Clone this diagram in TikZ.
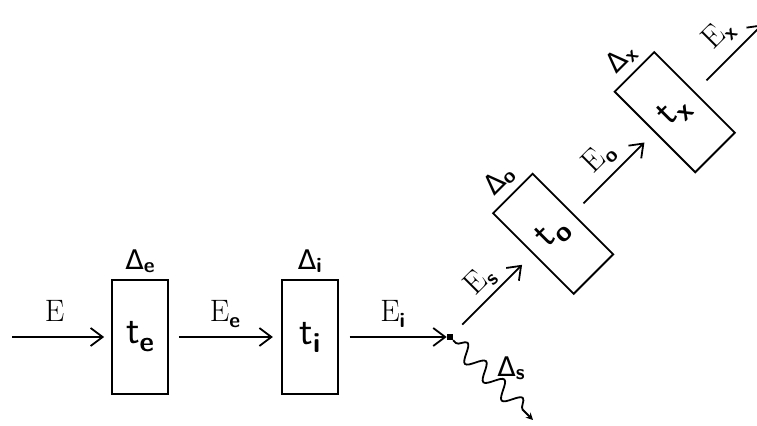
\documentclass[tikz,border=0pt]{standalone}
\usepackage{fontspec}
\newfontfamily\deltafont{DejaVu Sans}
\usetikzlibrary{arrows.meta, positioning, decorations.pathmorphing}

\newcommand{\bsub}[2][3pt]{\raisebox{-#1}{\fontsize{10.5}{11}\selectfont\sffamily\bfseries #2}}
\newcommand{\tbox}[1]{\textsf{t}\raisebox{-4pt}{\fontsize{14}{14}\selectfont\sffamily\bfseries #1}}
\newcommand{\dlab}[1]{{\deltafont\fontsize{13.5}{15}\selectfont Δ}\bsub[1.5pt]{#1}}

\begin{document}
\begin{tikzpicture}[
  x=0.5pt, y=0.5pt,
  font=\fontsize{15.5}{18}\selectfont,
  stage/.style={rectangle, draw, line width=0.9pt, minimum width=28pt,
                minimum height=57pt, inner sep=0pt, font=\fontsize{20}{22}\selectfont},
  arr/.style={-{Straight Barb[length=6pt, width=9pt]}, line width=0.9pt},
  flow/.style={midway, anchor=base, yshift=8pt},
  delta/.style={inner sep=0pt},
  wavy/.style={line width=0.9pt, decorate,
               decoration={snake, amplitude=4.2pt, segment length=13pt, pre length=2pt, post length=3pt}}
]
\useasboundingbox (0,0) rectangle (757,425);

% straight part
\coordinate (in) at (12,88);
\node[stage] (te) at (140,88) {\tbox{e}};
\node[stage, right=56pt of te] (ti) {\tbox{i}};
\node[rectangle, fill, minimum size=2.8pt, inner sep=0pt, right=54pt of ti] (split) {};

\node[delta, above=3pt of te] (dte) {\dlab{e}};
\node[delta, above=3pt of ti] (dti) {\dlab{i}};

\draw[arr, shorten >=3.5pt] (in) -- (te) node[flow, pos=0.43] {E};
\draw[arr, shorten <=5pt, shorten >=4pt] (te) -- (ti) node[flow] {E\bsub{e}};
\draw[arr, shorten <=5.5pt] (ti) -- (split) node[flow] {E\bsub{i}};

% lost part
\coordinate (sink) at (533,5);
\draw[wavy, -{Stealth[length=3.5pt, width=3.5pt]}] (split) -- (sink);
\path (split) -- (sink) node[delta, pos=0.5, anchor=south west, xshift=2pt] (dts) {\dlab{s}};

% tilted part
\begin{scope}[shift={(split.center)}, rotate=45, transform shape]
  \node[stage] (to) at (146,0) {\tbox{o}};
  \node[stage] (tx) at (318,0) {\tbox{x}};
  \coordinate (out) at (442,0);

  \node[delta, above=3pt of to] (dto) {\dlab{o}};
  \node[delta, above=3pt of tx] (dtx) {\dlab{x}};

  \draw[arr, shorten <=6.5pt, shorten >=7.5pt] (split) -- (to) node[flow, yshift=-2.5pt] {E\bsub{s}};
  \draw[arr, shorten <=7pt, shorten >=7pt] (to) -- (tx) node[flow, yshift=-1pt] {E\bsub{o}};
  \draw[arr, shorten <=8pt] (tx) -- (out) node[flow, pos=0.6] {E\bsub{x}};
\end{scope}
\end{tikzpicture}
\end{document}
